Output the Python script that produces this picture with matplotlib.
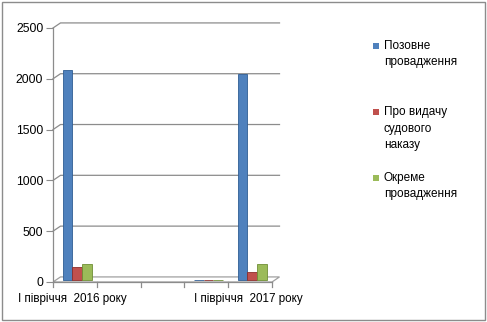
import matplotlib
matplotlib.use("Agg")
import numpy as np
import matplotlib.pyplot as plt
from matplotlib.patches import Rectangle, Polygon

plt.rcParams['font.family'] = ['Liberation Sans', 'DejaVu Sans']

# categories (only first and last are labelled in the original)
categories = ['І півріччя  2016 року', '', '', '', 'І півріччя  2017 року']
series_names = ['Позовне\nпровадження', 'Про видачу\nсудового\nнаказу', 'Окреме\nпровадження']
pozovne = [2070, 0, 0, 8, 2030]
nakaz = [135, 0, 0, 6, 85]
okreme = [165, 0, 0, 5, 165]
colors = ['#4F81BD', '#C0504D', '#9BBB59']
edges = ['#2F5D94', '#8C2E2B', '#6F8F35']

W, H = 487, 322
fig = plt.figure(figsize=(W / 100, H / 100), dpi=100)

# plot area in pixel terms: y axis at x=53, right wall at x=280, zero at y=282, top at y=28
x0, x1 = 53, 281
y0, y1 = 282, 28
ax = fig.add_axes([x0 / W, 1 - y0 / H, (x1 - x0) / W, (y0 - y1) / H])

n = len(categories)
cat_px = (272 - 53) / n
dx = 7.5 / cat_px          # depth offset in category units
dy = 50                    # depth offset in value units
ax.set_xlim(-0.5, -0.5 + (x1 - x0) / cat_px)
ax.set_ylim(0, 2500)

# floor
ax.add_patch(Polygon([(-0.5, 0), (n - 0.5, 0), (n - 0.5 + dx, dy), (-0.5 + dx, dy)],
                     closed=True, facecolor='white', edgecolor='#A0A0A0', lw=0.9, zorder=1))
# gridlines on back wall
for v in range(500, 2501, 500):
    ax.plot([-0.5, -0.5 + dx, n - 0.5 + dx], [v, v + dy, v + dy],
            color='#8C8C8C', lw=0.9, zorder=0, clip_on=False)

x = np.arange(n)
bw = 0.22
for i, vals in enumerate([pozovne, nakaz, okreme]):
    ec = [edges[i] if v > 0 else 'none' for v in vals]
    ax.bar(x + (i - 1) * bw + 0.05, vals, width=bw, bottom=15, color=colors[i],
           edgecolor=ec, linewidth=0.6, zorder=3)

for s in ['top', 'right', 'bottom']:
    ax.spines[s].set_visible(False)
ax.spines['left'].set_color('#8C8C8C')
ax.spines['left'].set_linewidth(0.9)

ax.set_yticks(range(0, 2501, 500))
ax.tick_params(axis='y', length=5, color='#8C8C8C', labelsize=8.7, pad=2)
ax.set_xticks([])
# x axis line and category separators
ax.plot([-0.5, n - 0.5], [0, 0], color='#8C8C8C', lw=0.9, clip_on=False, zorder=2)
for b in np.arange(-0.5, n, 1.0):
    ax.plot([b, b], [0, -50], color='#8C8C8C', lw=0.9, clip_on=False)
for i, c in enumerate(categories):
    if c:
        ax.text(x[i] - 0.05, -110, c, ha='center', va='top', fontsize=8.4)

# legend drawn manually to keep Excel-style alignment
leg_y = [46, 112, 178]
for name, col, ly in zip(series_names, colors, leg_y):
    fig.patches.append(Rectangle((373 / W, 1 - (ly + 3) / H), 6 / W, 6 / H,
                                 transform=fig.transFigure, facecolor=col, edgecolor='none'))
    fig.text(384 / W, 1 - (ly - 6) / H, name, ha='left', va='top', fontsize=8.5,
             linespacing=1.5)

# chart border
fig.patches.append(Rectangle((2 / W, 2 / H), (W - 4) / W, (H - 4) / H, transform=fig.transFigure,
                             fill=False, edgecolor='#8C8C8C', lw=1))

fig.savefig('out.png', dpi=100)
